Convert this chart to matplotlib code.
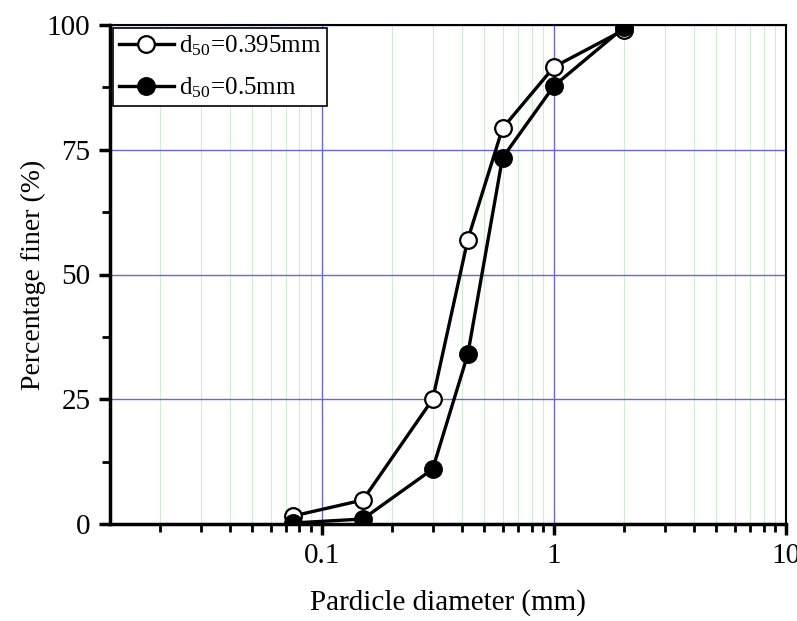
import matplotlib.pyplot as plt
from matplotlib.ticker import LogLocator, MultipleLocator, NullFormatter, FixedLocator, FixedFormatter

plt.rcParams['font.family'] = ['Liberation Serif', 'DejaVu Serif']
plt.rcParams['mathtext.fontset'] = 'stix'

# sieve sizes (mm) and percentage finer for the two sands
diameter = [0.075, 0.15, 0.3, 0.425, 0.6, 1.0, 2.0]
finer_d395 = [1.6, 4.8, 25.0, 57.0, 79.3, 91.6, 99.0]
finer_d500 = [0.2, 1.0, 11.0, 34.0, 73.4, 87.8, 99.5]

x_ticks = [0.1, 1, 10]
x_ticklabels = ['0.1', '1', '10']
y_ticks = [0, 25, 50, 75, 100]

fig = plt.figure(figsize=(7.97, 6.21), dpi=100)
ax = fig.add_axes([110 / 797, 1 - 524 / 621, 676 / 797, 499 / 621])

ax.plot(diameter, finer_d395, '-o', color='black', lw=2.4, ms=12,
        mfc='white', mec='black', mew=1.6, label=r'd$_{\mathregular{50}}$=0.395mm', zorder=5)
ax.plot(diameter, finer_d500, '-o', color='black', lw=2.4, ms=12,
        mfc='black', mec='black', mew=1.6, label=r'd$_{\mathregular{50}}$=0.5mm', zorder=5)

ax.set_xscale('log')
ax.set_xlim(0.0122, 10)
ax.set_ylim(0, 100)

ax.xaxis.set_major_locator(FixedLocator(x_ticks))
ax.xaxis.set_major_formatter(FixedFormatter(x_ticklabels))
ax.xaxis.set_minor_locator(LogLocator(base=10, subs=range(2, 10)))
ax.xaxis.set_minor_formatter(NullFormatter())
ax.yaxis.set_major_locator(FixedLocator(y_ticks))
ax.yaxis.set_minor_locator(MultipleLocator(12.5))

ax.grid(True, which='major', color='#6666dd', lw=1.0)
ax.grid(True, which='minor', axis='x', color='#d2ecd2', lw=0.8)
ax.set_axisbelow(True)

for side in ['left', 'bottom']:
    ax.spines[side].set_linewidth(2.5)
for side in ['top', 'right']:
    ax.spines[side].set_linewidth(1.5)

ax.tick_params(which='major', direction='out', length=8, width=2.5, labelsize=21, pad=6)
ax.tick_params(which='minor', direction='out', length=6, width=2.0)
ax.tick_params(top=False, right=False)

ax.set_xlabel('Pardicle diameter (mm)', fontsize=21, labelpad=14)
ax.set_ylabel('Percentage finer (%)', fontsize=20, labelpad=1)

leg = ax.legend(loc='upper left', fontsize=18, frameon=True, fancybox=False,
                borderaxespad=0.1, handlelength=2.2, handletextpad=0.2,
                borderpad=0.25, labelspacing=0.7)
leg.get_frame().set_edgecolor('black')
leg.get_frame().set_linewidth(1.2)
leg.get_frame().set_alpha(1)

fig.savefig('out.png', dpi=100)
